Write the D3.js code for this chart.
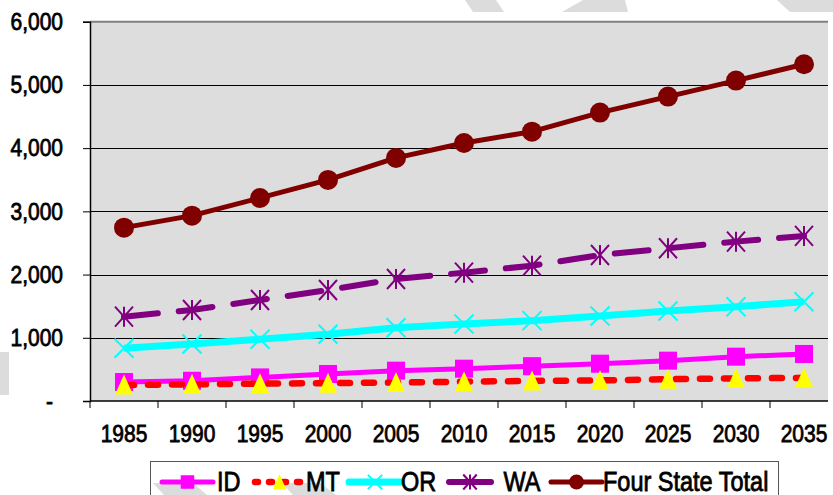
<!DOCTYPE html>
<html>
<head>
<meta charset="utf-8">
<script src="https://cdn.jsdelivr.net/npm/d3@7"></script>
<style>
  html, body { margin: 0; padding: 0; background: #fff; }
  svg { display: block; font-family: "Liberation Sans", Arial, sans-serif; }
  .lbl { fill: #000; stroke: #000; stroke-width: 0.7px; paint-order: stroke; }
</style>
</head>
<body>
<svg id="chart" width="833" height="495"></svg>
<script>
// Projected values, in thousands
const years = [1985, 1990, 1995, 2000, 2005, 2010, 2015, 2020, 2025, 2030, 2035];
const idVals = [300, 320, 373, 427, 480, 511, 551, 590, 638, 701, 744];
const mtVals = [253, 264, 275, 282, 292, 306, 318, 326, 345, 358, 366];
const orVals = [835, 902, 976, 1055, 1160, 1218, 1271, 1345, 1424, 1492, 1571];
const waVals = [1334, 1440, 1598, 1756, 1930, 2030, 2141, 2310, 2416, 2521, 2611];
const totalVals = [2742, 2932, 3212, 3497, 3845, 4082, 4261, 4562, 4815, 5068, 5327];
const yTicks = [0, 1000, 2000, 3000, 4000, 5000, 6000];
const seriesNames = ["ID", "MT", "OR", "WA", "Four State Total"];

const svg = d3.select("#chart");
const STRETCH = 1.14; // text is drawn slightly taller than wide

// decorative grey chevrons in the page background
const stripes = [
  [[465, 0], [496, 0], [504, 12], [473, 12]],
  [[583, 0], [625, 0], [628, 12], [562, 12]],
  [[777, 0], [833, 0], [833, 12], [790, 12]],
  [[0, 352], [9, 352], [9, 395], [0, 395]],
  [[153, 483], [193, 483], [207, 495], [164, 495]],
  [[282, 483], [320, 483], [336, 495], [293, 495]]
];
// white chart area
svg.append("rect").attr("x", 9).attr("y", 12).attr("width", 824).attr("height", 471).attr("fill", "#fff");
svg.append("g").selectAll("polygon").data(stripes).join("polygon")
  .attr("points", d => d.map(p => p.join(",")).join(" "))
  .attr("fill", "#dcdcdc");

const plot = { left: 90, top: 22, right: 828, bottom: 401 };

const x = d3.scaleBand().domain(years).range([plot.left, 838]).padding(0);
const y = d3.scaleLinear().domain([0, 6000]).range([plot.bottom, 21.7]);

svg.append("defs").append("clipPath").attr("id", "plotclip")
  .append("rect").attr("x", plot.left).attr("y", 0)
  .attr("width", plot.right - plot.left).attr("height", plot.bottom + 20);

// plot background
svg.append("rect")
  .attr("x", plot.left).attr("y", y(6000))
  .attr("width", plot.right - plot.left).attr("height", plot.bottom - y(6000))
  .attr("fill", "#dddddd");

// top border
svg.append("line")
  .attr("x1", plot.left).attr("x2", plot.right)
  .attr("y1", y(6000)).attr("y2", y(6000))
  .attr("stroke", "#808080").attr("stroke-width", 2);

// gridlines
svg.append("g").selectAll("line").data(yTicks.filter(t => t > 0 && t < 6000)).join("line")
  .attr("x1", plot.left).attr("x2", plot.right)
  .attr("y1", d => Math.round(y(d)) + 0.5).attr("y2", d => Math.round(y(d)) + 0.5)
  .attr("stroke", "#000").attr("stroke-width", 1);

// y axis
const yAxis = d3.axisLeft(y).tickValues(yTicks).tickSize(7).tickPadding(20)
  .tickFormat(d => d === 0 ? "-" : d3.format(",")(d));
const gy = svg.append("g").attr("transform", `translate(${plot.left},0)`).call(yAxis);
gy.select(".domain").attr("stroke", "#000").attr("stroke-width", 1.5);
gy.selectAll(".tick line").attr("stroke", "#000");
gy.selectAll(".tick text")
  .attr("class", "lbl")
  .attr("font-size", 21)
  .attr("font-family", "Liberation Sans, Arial, sans-serif")
  .attr("dx", d => d === 0 ? -10 : 0)
  .attr("transform", `scale(1,${STRETCH})`);

// x axis: baseline, boundary ticks, centred labels
const gx = svg.append("g");
gx.append("line")
  .attr("x1", plot.left).attr("x2", plot.right)
  .attr("y1", plot.bottom).attr("y2", plot.bottom)
  .attr("stroke", "#000").attr("stroke-width", 1.5);
gx.selectAll("line.tk").data(years).join("line").attr("class", "tk")
  .attr("x1", d => x(d)).attr("x2", d => x(d))
  .attr("y1", plot.bottom).attr("y2", plot.bottom + 7)
  .attr("stroke", "#000");
gx.selectAll("text").data(years).join("text")
  .attr("class", "lbl")
  .attr("transform", d => `translate(${x(d) + x.bandwidth() / 2},441.5) scale(1,${STRETCH})`)
  .attr("text-anchor", "middle")
  .attr("font-size", 21)
  .text(d => d);

// marker drawers
const markers = {
  square: (g, s, c) => g.append("rect").attr("x", -s / 2).attr("y", -s / 2).attr("width", s).attr("height", s).attr("fill", c),
  triangle: (g, s, c) => g.append("path").attr("d", `M0,${-s * 0.55}L${s * 0.47},${s * 0.5}L${-s * 0.47},${s * 0.5}Z`).attr("fill", c),
  cross: (g, s, c) => g.append("path").attr("d", `M${-s / 2},${-s / 2}L${s / 2},${s / 2}M${s / 2},${-s / 2}L${-s / 2},${s / 2}`)
    .attr("stroke", c).attr("stroke-width", 2).attr("fill", "none"),
  star: (g, s, c) => g.append("path").attr("d", `M${-s * 0.45},${-s / 2}L${s * 0.45},${s / 2}M${s * 0.45},${-s / 2}L${-s * 0.45},${s / 2}M0,${-s / 2}L0,${s / 2}`)
    .attr("stroke", c).attr("stroke-width", 2).attr("fill", "none"),
  circle: (g, s, c) => g.append("circle").attr("r", s / 2).attr("fill", c)
};

const series = [
  { name: seriesNames[0], values: idVals, color: "#ff00ff", width: 5, dash: null, marker: "square", mColor: "#ff00ff", mSize: 18 },
  { name: seriesNames[1], values: mtVals, color: "#ff0000", width: 6.5, dash: "10,14", marker: "triangle", mColor: "#ffff00", mSize: 19 },
  { name: seriesNames[2], values: orVals, color: "#00ffff", width: 7, dash: null, marker: "cross", mColor: "#00ffff", mSize: 19 },
  { name: seriesNames[3], values: waVals, color: "#800080", width: 6, dash: "34,21", marker: "star", mColor: "#800080", mSize: 20 },
  { name: seriesNames[4], values: totalVals, color: "#800000", width: 5, dash: null, marker: "circle", mColor: "#800000", mSize: 20 }
];

const line = d3.line()
  .x((d, i) => x(years[i]) + x.bandwidth() / 2)
  .y(d => y(d));

const plotG = svg.append("g").attr("clip-path", "url(#plotclip)");
series.forEach(s => {
  plotG.append("path")
    .attr("d", line(s.values))
    .attr("fill", "none")
    .attr("stroke", s.color)
    .attr("stroke-width", s.width)
    .attr("stroke-linecap", s.dash ? "round" : "butt")
    .attr("stroke-linejoin", "round")
    .attr("stroke-dasharray", s.dash);
  s.values.forEach((v, i) => {
    const g = plotG.append("g")
      .attr("transform", `translate(${x(years[i]) + x.bandwidth() / 2},${y(v)})`);
    markers[s.marker](g, s.mSize, s.mColor);
  });
});

// legend
const legend = svg.append("g");
legend.append("rect")
  .attr("x", 150.5).attr("y", 461.5).attr("width", 628).attr("height", 60)
  .attr("fill", "none").attr("stroke", "#555").attr("stroke-width", 1);

const legendItems = [
  { s: series[0], x0: 162, x1: 213, tx: 217, label: "ID" },
  { s: series[1], x0: 255, x1: 304, tx: 306, label: "MT" },
  { s: series[2], x0: 349, x1: 401, tx: 401, label: "OR" },
  { s: series[3], x0: 449, x1: 491, tx: 497, label: "\u00a0WA" },
  { s: series[4], x0: 551, x1: 602, tx: 603, label: "Four State Total" }
];
const ly = 482;
legendItems.forEach(it => {
  const s = it.s;
  legend.append("line")
    .attr("x1", it.x0).attr("x2", it.x1).attr("y1", ly).attr("y2", ly)
    .attr("stroke", s.color).attr("stroke-width", s.width)
    .attr("stroke-linecap", "round")
    .attr("stroke-dasharray", s.marker === "triangle" ? "3,11" : null);
  const g = legend.append("g").attr("transform", `translate(${(it.x0 + it.x1) / 2},${ly})`);
  markers[s.marker](g, s.mSize * 0.75, s.mColor);
  legend.append("text")
    .attr("class", "lbl")
    .attr("transform", `translate(${it.tx},${ly + 8.5}) scale(1,${STRETCH})`)
    .attr("font-size", 23.5)
    .text(it.label);
});
</script>
</body>
</html>
